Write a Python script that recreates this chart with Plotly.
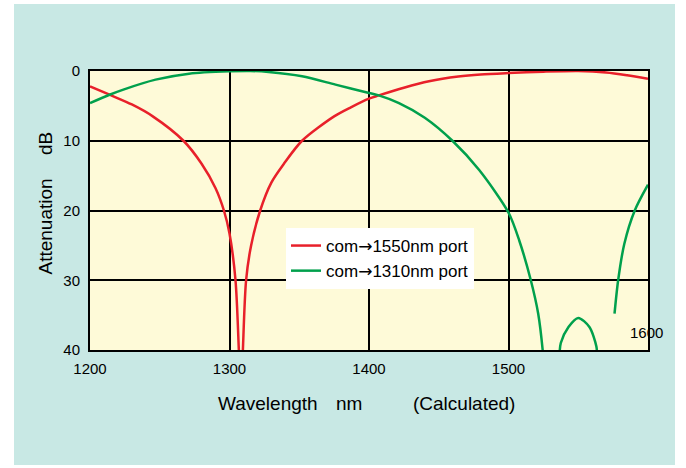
import plotly.graph_objects as go

# ---- data ----
red_wl = [1200, 1214, 1230, 1245, 1267, 1280, 1290, 1296, 1300, 1304.3, 1306.7, 1308.2,
          1309.6, 1311.9, 1315.5, 1322, 1330, 1339, 1352, 1375, 1387, 1400, 1407, 1425,
          1443, 1464, 1480, 1500, 1525, 1550, 1570, 1585, 1600]
red_db = [2.2, 3.4, 4.8, 6.5, 10, 13.3, 16.8, 20, 23.3, 30, 40, 48,
          40, 30, 25, 20, 16, 13.3, 10, 6.5, 5.2, 3.96, 3.5, 2.4,
          1.48, 0.8, 0.5, 0.3, 0.1, 0.0, 0.2, 0.6, 1.1]

green_wl = [1200, 1214, 1223.4, 1247, 1271, 1300, 1315, 1328, 1352, 1376, 1400, 1407,
            1421.5, 1440, 1459.8, 1479, 1500, 1507.7, 1516, 1521.3, 1524.5, 1526,
            None,
            1536.5, 1537.5, 1543, 1550, 1558, 1563, 1563.5,
            None,
            1576, 1578.6, 1583, 1590.5, 1600]
green_db = [4.6, 3.4, 2.7, 1.24, 0.38, 0.05, 0.0, 0.14, 0.76, 1.95, 3.15, 3.5,
            4.6, 6.7, 10, 14.2, 20.3, 24.3, 30, 34.8, 40, 44,
            None,
            41, 39, 36.7, 35.4, 36.7, 39.5, 41,
            None,
            34.8, 30, 24.8, 20, 16.3]

x_ticks = [1200, 1300, 1400, 1500]
y_ticks = [0, 10, 20, 30, 40]

RED = "#e8202a"
GREEN = "#00a04c"
TEAL = "#c8e8e4"
CREAM = "#fefad8"
FONT = "Liberation Sans, Arial, sans-serif"
ARROW = "<span style='font-family:DejaVu Sans'>→</span>"

fig = go.Figure()
fig.add_trace(go.Scatter(x=red_wl, y=red_db, mode="lines", name="com" + ARROW + "1550nm port",
                         line=dict(color=RED, width=2.5, shape="spline", smoothing=0.8)))
fig.add_trace(go.Scatter(x=green_wl, y=green_db, mode="lines", name="com" + ARROW + "1310nm port",
                         connectgaps=False,
                         line=dict(color=GREEN, width=2.5, shape="spline", smoothing=0.8)))

W, H = 686, 468
L, R, T, B = 90, 648, 71, 350
pw, ph = R - L, B - T

def px(xp):
    return (xp - L) / pw

def py(yp):
    return (B - yp) / ph

def note(text, x, y, size, angle=0):
    return dict(text=text, x=px(x), y=py(y), xref="paper", yref="paper",
                xanchor="center", yanchor="middle", showarrow=False,
                textangle=angle, font=dict(size=size))

fig.update_layout(
    width=W, height=H,
    margin=dict(l=L, r=W - R, t=T, b=H - B, pad=0),
    paper_bgcolor="white",
    plot_bgcolor="rgba(0,0,0,0)",
    font=dict(family=FONT, color="black", size=15),
    showlegend=True,
    legend=dict(x=px(286), y=py(228), xanchor="left", yanchor="top",
                bgcolor="white", borderwidth=0, font=dict(size=17, family=FONT),
                itemwidth=30, tracegroupgap=0),
    shapes=[
        dict(type="rect", xref="paper", yref="paper", x0=px(14), x1=px(675),
             y0=py(465), y1=py(4), fillcolor=TEAL, line=dict(width=0), layer="below"),
        dict(type="rect", xref="paper", yref="paper", x0=0, x1=1, y0=0, y1=1,
             fillcolor=CREAM, line=dict(width=0), layer="below"),
    ],
    xaxis=dict(range=[1200, 1600], tickvals=x_ticks, ticktext=[str(v) for v in x_ticks],
               showgrid=True, gridcolor="black", gridwidth=1.5, zeroline=False,
               showline=True, linecolor="black", linewidth=2, mirror=True,
               ticks="", ticklabelstandoff=4, tickfont=dict(size=15)),
    yaxis=dict(range=[40, 0], tickvals=y_ticks, ticktext=[str(v) for v in y_ticks],
               showgrid=True, gridcolor="black", gridwidth=1.5, zeroline=False,
               showline=True, linecolor="black", linewidth=2, mirror=True,
               ticks="", ticklabelstandoff=5, tickfont=dict(size=15)),
    annotations=[
        note("1600", 646, 332, 15),
        note("Wavelength", 267.5, 403, 19),
        note("nm", 349, 403, 19),
        note("(Calculated)", 464, 403, 19),
        note("Attenuation", 45, 226.5, 19, -90),
        note("dB", 45, 144, 19, -90),
    ],
)

fig.write_html("out.html", config={"displayModeBar": False},
               post_script="document.body.style.margin='0';")
